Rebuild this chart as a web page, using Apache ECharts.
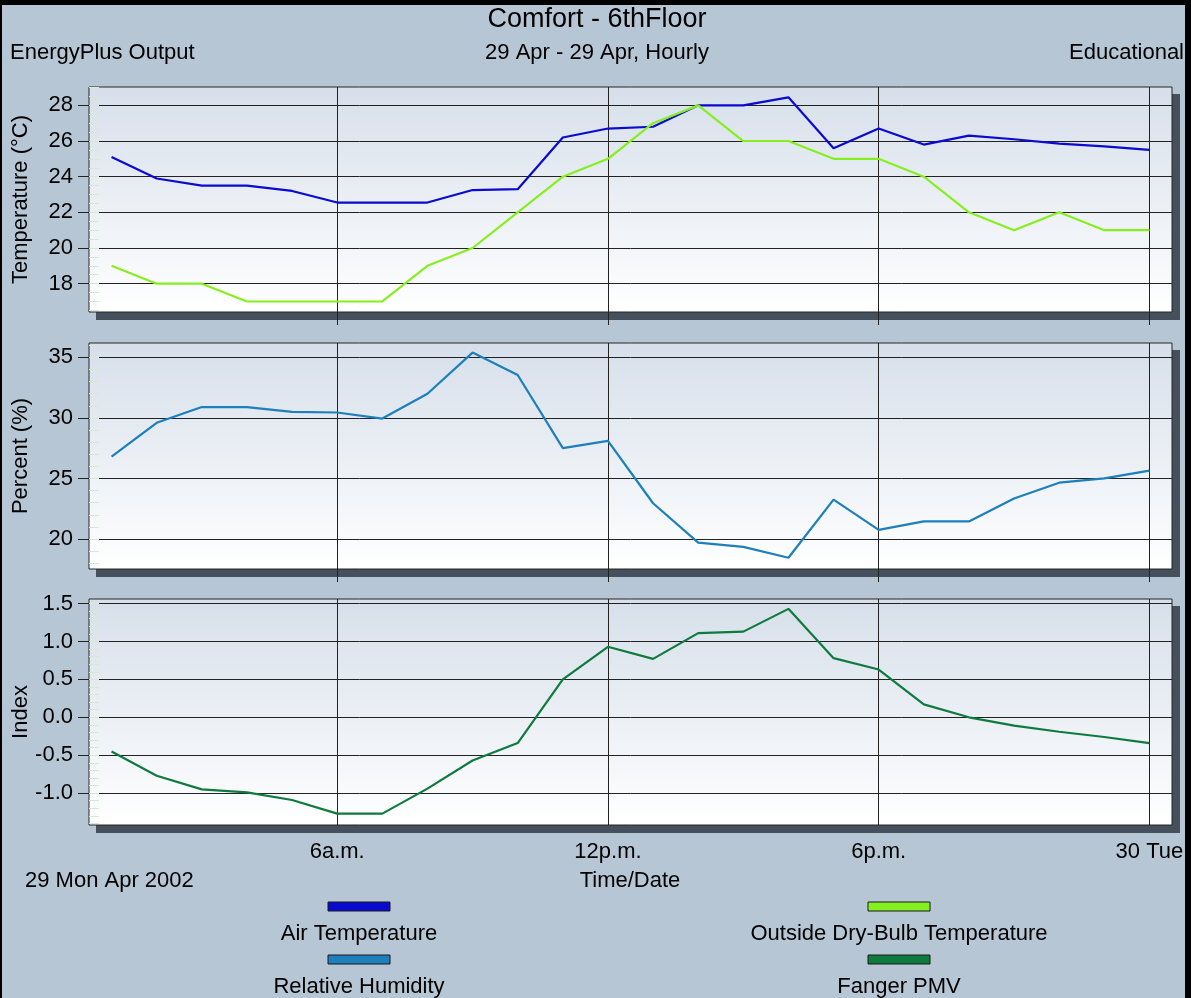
<!DOCTYPE html>
<html>
<head>
<meta charset="utf-8">
<script src="https://cdn.jsdelivr.net/npm/echarts@6/dist/echarts.min.js"></script>
<style>
  html, body { margin: 0; padding: 0; background: #b7c6d5; }
  #wrap { position: relative; width: 1191px; height: 998px; overflow: hidden; background: #b7c6d5; }
  #chart { position: absolute; left: 0; top: 0; width: 1191px; height: 998px; }
  .edge { position: absolute; background: #000; }
  .drop { position: absolute; background: #46505c; }
</style>
</head>
<body>
<div id="wrap">
  <div id="shadows"></div>
  <div id="chart"></div>
  <div class="edge" style="left:0;top:0;width:1191px;height:5px"></div>
  <div class="edge" style="left:0;top:0;width:2px;height:998px"></div>
  <div class="edge" style="right:0;top:0;width:6px;height:998px"></div>
</div>
<script>
// Hourly comfort results for the 6th floor zone, 29 Apr 2002 (hour 24 = 30 Tue 00:00)
const hours = [1, 2, 3, 4, 5, 6, 7, 8, 9, 10, 11, 12, 13, 14, 15, 16, 17, 18, 19, 20, 21, 22, 23, 24];
const airTemp = [25.1, 23.9, 23.5, 23.5, 23.2, 22.55, 22.55, 22.55, 23.25, 23.3, 26.2, 26.7, 26.8, 28.0, 28.0, 28.45, 25.6, 26.7, 25.8, 26.3, 26.1, 25.85, 25.7, 25.5];
const outsideTemp = [19, 18, 18, 17, 17, 17, 17, 19, 20, 22, 24, 25, 27, 28, 26, 26, 25, 25, 24, 22, 21, 22, 21, 21];
const relHumidity = [26.8, 29.6, 30.9, 30.9, 30.5, 30.45, 29.95, 32.0, 35.4, 33.55, 27.5, 28.1, 22.95, 19.7, 19.35, 18.45, 23.25, 20.75, 21.45, 21.45, 23.35, 24.65, 25.0, 25.65];
const fangerPMV = [-0.45, -0.77, -0.95, -0.99, -1.09, -1.27, -1.27, -0.94, -0.57, -0.34, 0.50, 0.93, 0.77, 1.11, 1.13, 1.43, 0.78, 0.63, 0.17, 0.0, -0.11, -0.19, -0.26, -0.34];

// Axis ticks
const xTickHours = [6, 12, 18, 24];
const xTickLabels = ['6a.m.', '12p.m.', '6p.m.', '30 Tue'];
const tempTicks = [18, 20, 22, 24, 26, 28];
const rhTicks = [20, 25, 30, 35];
const pmvTicks = [-1.0, -0.5, 0.0, 0.5, 1.0, 1.5];

// Series names and colours
const seriesNames = ['Air Temperature', 'Outside Dry-Bulb Temperature', 'Relative Humidity', 'Fanger PMV'];
const seriesColors = ['#0a0ad0', '#86ef1e', '#1d7fbb', '#0f7a3e'];

const FONT = '"Liberation Sans", Arial, sans-serif';
const FS = 22;

// Panel boxes
const panels = [
  { top: 87, height: 225 },
  { top: 343, height: 226 },
  { top: 599, height: 226 }
];
const PLOT_LEFT = 89, PLOT_WIDTH = 1083, DROP = 7;

// Hard drop shadows behind each plot frame
const shadowHost = document.getElementById('shadows');
panels.forEach(function (p) {
  const d = document.createElement('div');
  d.className = 'drop';
  d.style.left = (PLOT_LEFT + DROP) + 'px';
  d.style.top = (p.top + DROP) + 'px';
  d.style.width = (PLOT_WIDTH + 1) + 'px';
  d.style.height = (p.height + 1) + 'px';
  shadowHost.appendChild(d);
});

const chart = echarts.init(document.getElementById('chart'), null, { renderer: 'canvas' });

const plotFill = {
  type: 'linear', x: 0, y: 0, x2: 0, y2: 1,
  colorStops: [{ offset: 0, color: '#d6dfea' }, { offset: 1, color: '#ffffff' }]
};

function gridAt(p) {
  return {
    left: PLOT_LEFT, top: p.top, width: PLOT_WIDTH, height: p.height,
    show: true, borderColor: '#262626', borderWidth: 1,
    backgroundColor: plotFill,
    containLabel: false,
    outerBoundsMode: 'none'
  };
}

function steps(min, max, step) {
  const out = [];
  const n = Math.round((max - min) / step);
  for (let i = 0; i <= n; i++) out.push(+(min + i * step).toFixed(4));
  return out;
}

function yAxes(gridIndex, name, min, max, ticks, minorVals, fmt) {
  return [
    {
      type: 'value', gridIndex: gridIndex, min: min, max: max, position: 'left',
      name: name, nameLocation: 'middle', nameGap: 57, nameMoveOverlap: false,
      nameTextStyle: { fontFamily: FONT, fontSize: FS, color: '#000' },
      axisLine: { show: false },
      axisTick: { show: true, customValues: ticks, length: 11, lineStyle: { color: '#222', width: 1 } },
      axisLabel: { customValues: ticks, margin: 16, fontFamily: FONT, fontSize: FS, color: '#000', formatter: fmt },
      splitLine: { show: true, lineStyle: { color: '#222', width: 1 } }
    },
    {
      type: 'value', gridIndex: gridIndex, min: min, max: max, position: 'left', offset: 0,
      axisLine: { show: false },
      axisTick: { show: true, inside: true, customValues: minorVals, length: 10, lineStyle: { color: '#d3ecd0', width: 1 } },
      axisLabel: { show: false },
      splitLine: { show: false }
    }
  ];
}

function xAxisFor(gridIndex, showLabels) {
  return {
    type: 'value', gridIndex: gridIndex, min: 0.5, max: 24.5,
    axisLine: { show: false },
    axisTick: { show: true, customValues: xTickHours, length: 13, lineStyle: { color: '#222', width: 1 } },
    axisLabel: {
      show: showLabels, customValues: xTickHours, margin: 16,
      fontFamily: FONT, fontSize: FS, color: '#000',
      formatter: function (v) { return xTickLabels[xTickHours.indexOf(v)]; }
    },
    splitLine: { show: true, lineStyle: { color: '#222', width: 1 } }
  };
}

const yAxis = []
  .concat(yAxes(0, 'Temperature (°C)', 16.41, 29.03, tempTicks, steps(16.5, 29, 0.5), v => String(v)))
  .concat(yAxes(1, 'Percent (%)', 17.52, 36.19, rhTicks, steps(18, 36, 1), v => String(v)))
  .concat(yAxes(2, 'Index', -1.42, 1.56, pmvTicks, steps(-1.4, 1.5, 0.1), v => v.toFixed(1)));

function lineSeries(name, values, color, gridIndex) {
  return {
    type: 'line', name: name,
    xAxisIndex: gridIndex, yAxisIndex: gridIndex * 2,
    data: hours.map((h, i) => [h, values[i]]),
    showSymbol: false, smooth: false,
    lineStyle: { color: color, width: 2.2 },
    itemStyle: { color: color },
    z: 5
  };
}

// Header, footer and legend text
function txt(text, x, y, align, size) {
  return {
    type: 'text', x: x, y: y, silent: true,
    style: { text: text, font: size + 'px ' + FONT, fill: '#000', align: align, verticalAlign: 'middle' }
  };
}

const legendCols = [359, 899];
const legendRows = [{ swatch: 902, label: 934 }, { swatch: 955, label: 987 }];
const legendGraphics = [];
seriesNames.forEach(function (name, i) {
  const cx = legendCols[i % 2];
  const row = legendRows[Math.floor(i / 2)];
  legendGraphics.push({
    type: 'rect', silent: true,
    shape: { x: cx - 31, y: row.swatch, width: 62, height: 9 },
    style: { fill: seriesColors[i], stroke: '#1a1a1a', lineWidth: 1 }
  });
  legendGraphics.push(txt(name, cx, row.label, 'center', FS));
});

const option = {
  animation: false,
  backgroundColor: 'transparent',
  grid: panels.map(gridAt),
  xAxis: [xAxisFor(0, false), xAxisFor(1, false), xAxisFor(2, true)],
  yAxis: yAxis,
  series: [
    lineSeries(seriesNames[0], airTemp, seriesColors[0], 0),
    lineSeries(seriesNames[1], outsideTemp, seriesColors[1], 0),
    lineSeries(seriesNames[2], relHumidity, seriesColors[2], 1),
    lineSeries(seriesNames[3], fangerPMV, seriesColors[3], 2)
  ],
  graphic: [
    txt('Comfort - 6thFloor', 597, 20, 'center', 27),
    txt('29 Apr - 29 Apr, Hourly', 597, 53, 'center', FS),
    txt('EnergyPlus Output', 10, 53, 'left', FS),
    txt('Educational', 1184, 53, 'right', FS),
    txt('29 Mon Apr 2002', 25, 881, 'left', FS),
    txt('Time/Date', 630, 881, 'center', FS)
  ].concat(legendGraphics)
};

chart.setOption(option);
</script>
</body>
</html>
